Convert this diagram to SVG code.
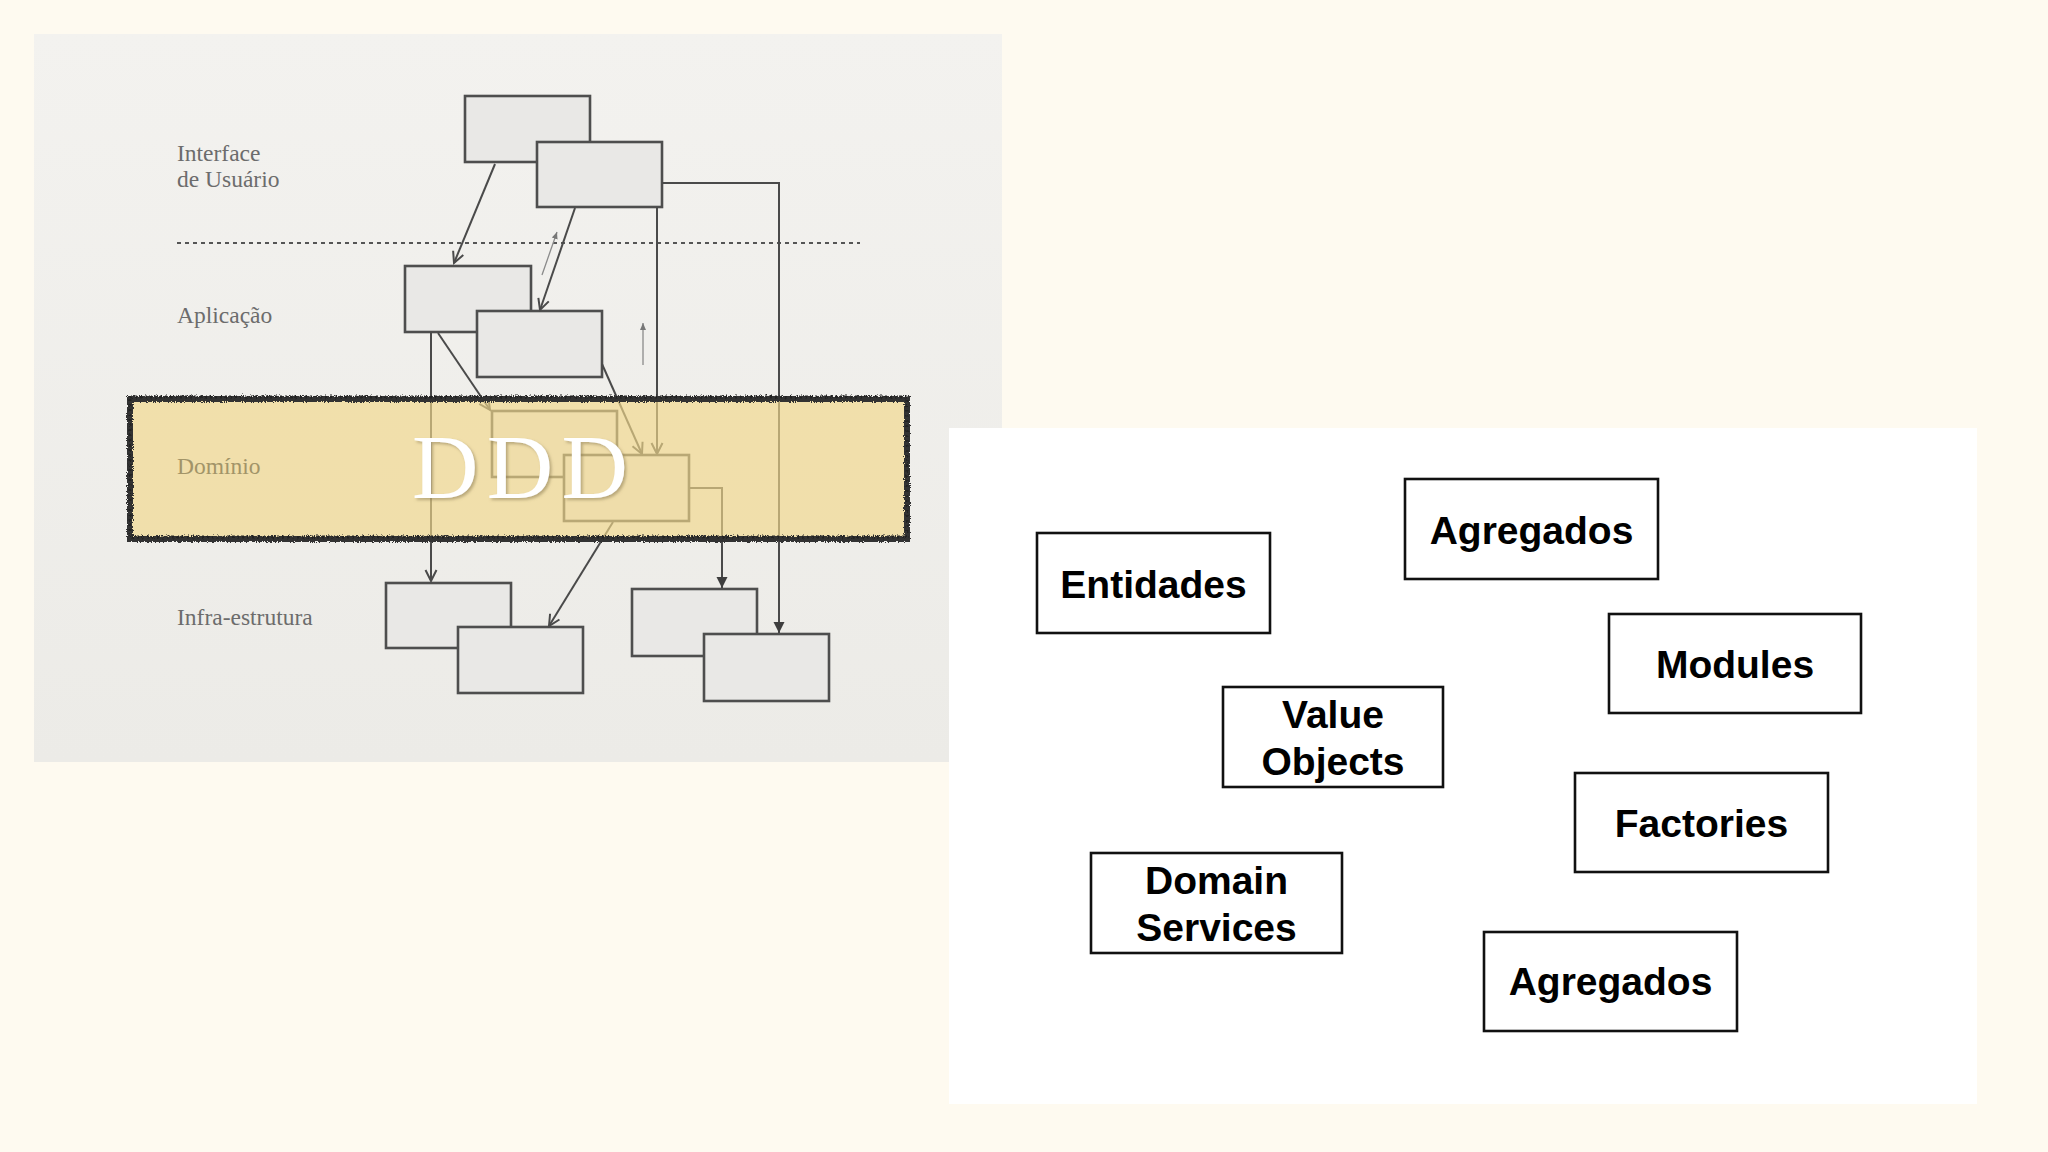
<svg xmlns="http://www.w3.org/2000/svg" width="2048" height="1152" viewBox="0 0 2048 1152">
  <defs>
    <style>
      .lbl{font-family:"Liberation Serif","Times New Roman",serif;font-size:23.5px;fill:#6C6C6C}
      .gbox{fill:#E9E8E6;stroke:#4E4E4E;stroke-width:2.6}
      .conn{fill:none;stroke:#4A4A4A;stroke-width:2}
      .thin{fill:none;stroke:#8A8A8A;stroke-width:1.3}
      .wbox{fill:#FFFFFF;stroke:#111111;stroke-width:2.6}
      .wtxt{font-family:"Liberation Sans",Arial,sans-serif;font-weight:bold;font-size:39px;fill:#000;text-anchor:middle}
    </style>
    <linearGradient id="panelGrad" x1="0" y1="0" x2="0" y2="1">
      <stop offset="0" stop-color="#F3F2EF"/>
      <stop offset="1" stop-color="#ECEBE7"/>
    </linearGradient>
    <marker id="openArrow" markerUnits="userSpaceOnUse" markerWidth="14" markerHeight="14" viewBox="0 0 14 14" refX="12" refY="7" orient="auto">
      <path d="M1,1.5 L12,7 L1,12.5" fill="none" stroke="#4A4A4A" stroke-width="2"/>
    </marker>
    <marker id="fillArrow" markerUnits="userSpaceOnUse" markerWidth="14" markerHeight="14" viewBox="0 0 14 14" refX="12" refY="7" orient="auto">
      <path d="M1,1.5 L12,7 L1,12.5 Z" fill="#3E3E3E"/>
    </marker>
    <marker id="tinyArrow" markerUnits="userSpaceOnUse" markerWidth="8" markerHeight="8" viewBox="0 0 8 8" refX="7" refY="4" orient="auto">
      <path d="M0,1 L7,4 L0,7 Z" fill="#777"/>
    </marker>
    <filter id="rough" filterUnits="userSpaceOnUse" x="100" y="370" width="840" height="200">
      <feTurbulence type="fractalNoise" baseFrequency="0.9" numOctaves="2" seed="3" result="n"/>
      <feDisplacementMap in="SourceGraphic" in2="n" scale="4" xChannelSelector="R" yChannelSelector="G"/>
    </filter>
    <filter id="ddShadow" x="-10%" y="-10%" width="130%" height="130%">
      <feGaussianBlur in="SourceAlpha" stdDeviation="1.5" result="b"/>
      <feOffset in="b" dx="1.5" dy="2" result="o"/>
      <feFlood flood-color="#8a7a50" flood-opacity="0.55"/>
      <feComposite in2="o" operator="in" result="s"/>
      <feMerge><feMergeNode in="s"/><feMergeNode in="SourceGraphic"/></feMerge>
    </filter>
  </defs>

  <!-- page background -->
  <rect x="0" y="0" width="2048" height="1152" fill="#FEFAF0"/>

  <!-- left picture -->
  <g id="layers-picture">
    <rect x="34" y="34" width="968" height="728" fill="url(#panelGrad)"/>

    <g id="layer-labels">
      <text class="lbl" x="177" y="161">Interface</text>
      <text class="lbl" x="177" y="187">de Usuário</text>
      <text class="lbl" x="177" y="323">Aplicação</text>
      <text class="lbl" x="177" y="625">Infra-estrutura</text>
    </g>

    <line x1="177" y1="243" x2="860" y2="243" stroke="#555" stroke-width="2" stroke-dasharray="4 4"/>

    <g id="ui-box-1"><rect class="gbox" x="465" y="96" width="125" height="66"/></g>
    <g id="ui-box-2"><rect class="gbox" x="537" y="142" width="125" height="65"/></g>
    <g id="app-box-1"><rect class="gbox" x="405" y="266" width="126" height="66"/></g>
    <g id="app-box-2"><rect class="gbox" x="477" y="311" width="125" height="66"/></g>
    <g id="dom-box-1"><rect class="gbox" x="492" y="411" width="125" height="66"/></g>
    <g id="dom-box-2"><rect class="gbox" x="564" y="455" width="125" height="66"/></g>
    <g id="infra-box-1"><rect class="gbox" x="386" y="583" width="125" height="65"/></g>
    <g id="infra-box-2"><rect class="gbox" x="458" y="627" width="125" height="66"/></g>
    <g id="infra-box-3"><rect class="gbox" x="632" y="589" width="125" height="67"/></g>
    <g id="infra-box-4"><rect class="gbox" x="704" y="634" width="125" height="67"/></g>

    <g id="connectors">
      <line class="conn" x1="495" y1="164" x2="454" y2="263" marker-end="url(#openArrow)"/>
      <line class="conn" x1="575" y1="208" x2="540" y2="310" marker-end="url(#openArrow)"/>
      <line class="thin" x1="542" y1="275" x2="557" y2="232" marker-end="url(#tinyArrow)"/>
      <line class="thin" x1="643" y1="365" x2="643" y2="323" marker-end="url(#tinyArrow)"/>
      <path class="conn" d="M662,183 H779 V633" marker-end="url(#fillArrow)"/>
      <path class="conn" d="M657,207 V454" marker-end="url(#openArrow)"/>
      <path class="conn" d="M431,332 V581" marker-end="url(#openArrow)"/>
      <line class="conn" x1="438" y1="333" x2="490" y2="410" marker-end="url(#openArrow)"/>
      <line class="conn" x1="602" y1="364" x2="642" y2="454" marker-end="url(#openArrow)"/>
      <path class="conn" d="M689,488 H722 V588" marker-end="url(#fillArrow)"/>
      <line class="conn" x1="613" y1="522" x2="549" y2="626" marker-end="url(#openArrow)"/>
    </g>

    <g id="domain-band">
      <rect x="130" y="399" width="777" height="140" fill="#F1D88A" fill-opacity="0.66"/>
      <g filter="url(#rough)">
        <rect x="130" y="399" width="777" height="140" fill="none" stroke="#333" stroke-width="6"/>
        <rect x="130" y="399" width="777" height="140" fill="none" stroke="#222" stroke-width="3" stroke-dasharray="2 3" transform="translate(0,-2)"/>
      </g>
      <text class="lbl" x="177" y="474" style="fill:#A29468">Domínio</text>
    </g>

    <text x="520" y="498" text-anchor="middle" font-family="Liberation Serif,'Times New Roman',serif" font-size="92" fill="#FFFFFF" textLength="216" lengthAdjust="spacing" filter="url(#ddShadow)">DDD</text>
  </g>

  <!-- right white panel -->
  <g id="building-blocks">
    <rect x="949" y="428" width="1028" height="676" fill="#FFFFFF"/>

    <g id="node-entidades">
      <rect class="wbox" x="1037" y="533" width="233" height="100"/>
      <text class="wtxt" x="1153.5" y="598">Entidades</text>
    </g>
    <g id="node-agregados-1">
      <rect class="wbox" x="1405" y="479" width="253" height="100"/>
      <text class="wtxt" x="1531.5" y="544">Agregados</text>
    </g>
    <g id="node-modules">
      <rect class="wbox" x="1609" y="614" width="252" height="99"/>
      <text class="wtxt" x="1735" y="678">Modules</text>
    </g>
    <g id="node-value-objects">
      <rect class="wbox" x="1223" y="687" width="220" height="100"/>
      <text class="wtxt" x="1333" y="728">Value</text>
      <text class="wtxt" x="1333" y="775">Objects</text>
    </g>
    <g id="node-factories">
      <rect class="wbox" x="1575" y="773" width="253" height="99"/>
      <text class="wtxt" x="1701.5" y="837">Factories</text>
    </g>
    <g id="node-domain-services">
      <rect class="wbox" x="1091" y="853" width="251" height="100"/>
      <text class="wtxt" x="1216.5" y="894">Domain</text>
      <text class="wtxt" x="1216.5" y="941">Services</text>
    </g>
    <g id="node-agregados-2">
      <rect class="wbox" x="1484" y="932" width="253" height="99"/>
      <text class="wtxt" x="1610.5" y="995">Agregados</text>
    </g>
  </g>
</svg>
